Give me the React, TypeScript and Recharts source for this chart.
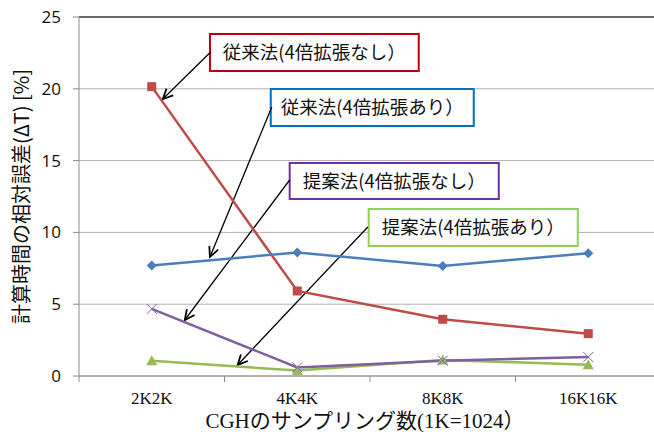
import {
  LineChart,
  Line,
  XAxis,
  YAxis,
  CartesianGrid,
  ReferenceArea,
  ReferenceLine,
} from "recharts";

const categories = ["2K2K", "4K4K", "8K8K", "16K16K"];
const conventionalNoExp = [20.15, 5.92, 3.95, 2.95];
const conventionalExp = [7.7, 8.6, 7.66, 8.55];
const proposedNoExp = [4.67, 0.6, 1.07, 1.32];
const proposedExp = [1.06, 0.38, 1.12, 0.78];
const yTicks = [0, 5, 10, 15, 20, 25];

const data = categories.map((c, i) => ({
  idx: i,
  name: c,
  convNo: conventionalNoExp[i],
  convYes: conventionalExp[i],
  propNo: proposedNoExp[i],
  propYes: proposedExp[i],
}));

// annotation callouts (box in data coords, arrow from box edge to line)
const callouts = [
  { text: "従来法(4倍拡張なし）", color: "#C00000", box: [0.4, 1.835, 21.24, 23.82], arrow: [[0.405, 22.56], [0.076, 19.29]] },
  { text: "従来法(4倍拡張あり）", color: "#0070C0", box: [0.818, 2.213, 17.41, 19.99], arrow: [[0.825, 18.73], [0.4, 8.29]] },
  { text: "提案法(4倍拡張なし）", color: "#7030A0", box: [0.948, 2.385, 12.33, 14.83], arrow: [[0.948, 13.65], [0.227, 3.9]] },
  { text: "提案法(4倍拡張あり）", color: "#92D050", box: [1.491, 2.928, 9.05, 11.63], arrow: [[1.485, 10.38], [0.59, 0.77]] },
];

const xTicks = [-0.5, 0, 0.5, 1, 1.5, 2, 2.5, 3, 3.5];

const XTick = (props: any) => {
  const { x, y, payload } = props;
  const v = payload.value;
  if (Number.isInteger(v)) {
    return (
      <text x={x} y={y + 28} textAnchor="middle" fontSize={17} fill="#111"
        fontFamily="'Liberation Serif', serif">
        {categories[v]}
      </text>
    );
  }
  return <line x1={x} x2={x} y1={y} y2={y + 6} stroke="#8c8c8c" strokeWidth={1} />;
};

const Arrow = (props: any) => {
  const { x1, y1, x2, y2 } = props;
  if (x1 == null) return null;
  const a = Math.atan2(y2 - y1, x2 - x1);
  const len = 11;
  const spread = 0.45;
  const hx1 = x2 - len * Math.cos(a - spread);
  const hy1 = y2 - len * Math.sin(a - spread);
  const hx2 = x2 - len * Math.cos(a + spread);
  const hy2 = y2 - len * Math.sin(a + spread);
  return (
    <g>
      <line x1={x1} y1={y1} x2={x2} y2={y2} stroke="#000" strokeWidth={1.3} />
      <polyline points={`${hx1},${hy1} ${x2},${y2} ${hx2},${hy2}`} fill="none" stroke="#000" strokeWidth={1.8} />
    </g>
  );
};

const Diamond = (p: any) => {
  const { cx, cy } = p;
  return <polygon points={`${cx},${cy - 5} ${cx + 5},${cy} ${cx},${cy + 5} ${cx - 5},${cy}`} fill="#4A7EBB" />;
};
const Square = (p: any) => {
  const { cx, cy } = p;
  return <rect x={cx - 4.5} y={cy - 4.5} width={9} height={9} fill="#BE4B48" />;
};
const Triangle = (p: any) => {
  const { cx, cy } = p;
  return <polygon points={`${cx},${cy - 5.5} ${cx + 5.5},${cy + 4.5} ${cx - 5.5},${cy + 4.5}`} fill="#98B954" />;
};
const Cross = (p: any) => {
  const { cx, cy } = p;
  return (
    <g stroke="#8064A2" strokeWidth={1}>
      <line x1={cx - 5} y1={cy - 5} x2={cx + 5} y2={cy + 5} />
      <line x1={cx - 5} y1={cy + 5} x2={cx + 5} y2={cy - 5} />
    </g>
  );
};

export default function App() {
  return (
    <div style={{ position: "absolute", left: 0, top: 0, width: 654, height: 432, overflow: "hidden", background: "#fff" }}>
      <LineChart
        width={670}
        height={432}
        data={data}
        margin={{ top: 17, right: 9, left: 0, bottom: 0 }}
      >
        <CartesianGrid vertical={false} stroke="#b0b0b0" strokeWidth={1} />
        <XAxis
          dataKey="idx"
          type="number"
          domain={[-0.5, 3.5]}
          ticks={xTicks}
          interval={0}
          tick={<XTick />}
          tickLine={false}
          tickSize={0}
          tickMargin={0}
          axisLine={{ stroke: "#8c8c8c" }}
          height={56}
          label={{
            value: "CGHのサンプリング数(1K=1024）",
            position: "insideBottom",
            offset: 4,
            dx: -5,
            fontSize: 21,
            fill: "#111",
            fontFamily: "'Liberation Serif', 'Noto Sans CJK JP', serif",
          }}
        />
        <YAxis
          domain={[0, 25]}
          ticks={yTicks}
          width={79}
          tickSize={6}
          tickMargin={12}
          tickLine={{ stroke: "#8c8c8c" }}
          axisLine={{ stroke: "#8c8c8c" }}
          tick={{ fontSize: 17, fill: "#111", fontFamily: "'Open Sans', 'Noto Sans', sans-serif" }}
          label={{
            value: "計算時間の相対誤差(ΔT) [%]",
            angle: -90,
            position: "insideLeft",
            offset: 22,
            fontSize: 20,
            fill: "#111",
            fontFamily: "'Noto Sans CJK JP', sans-serif",
            style: { textAnchor: "middle" },
          }}
        />
        <ReferenceLine y={25} stroke="#404040" strokeWidth={1.5} />
        {callouts.map((c) => (
          <ReferenceLine
            key={c.text + "a"}
            segment={[{ x: c.arrow[0][0], y: c.arrow[0][1] }, { x: c.arrow[1][0], y: c.arrow[1][1] }]}
            shape={<Arrow />}
          />
        ))}
        {callouts.map((c) => (
          <ReferenceArea
            key={c.text}
            x1={c.box[0]}
            x2={c.box[1]}
            y1={c.box[2]}
            y2={c.box[3]}
            fill="#fff"
            fillOpacity={1}
            stroke={c.color}
            strokeWidth={2}
            label={{
              value: c.text,
              position: "center",
              fontSize: 18.5,
              fill: "#111",
              fontFamily: "'Noto Sans CJK JP', sans-serif",
            }}
          />
        ))}
        <Line dataKey="convNo" stroke="#BE4B48" strokeWidth={2.5} dot={<Square />} isAnimationActive={false} />
        <Line dataKey="convYes" stroke="#4A7EBB" strokeWidth={2.5} dot={<Diamond />} isAnimationActive={false} />
        <Line dataKey="propYes" stroke="#98B954" strokeWidth={2.5} dot={<Triangle />} isAnimationActive={false} />
        <Line dataKey="propNo" stroke="#7E60A0" strokeWidth={2.5} dot={<Cross />} isAnimationActive={false} />
      </LineChart>
    </div>
  );
}
